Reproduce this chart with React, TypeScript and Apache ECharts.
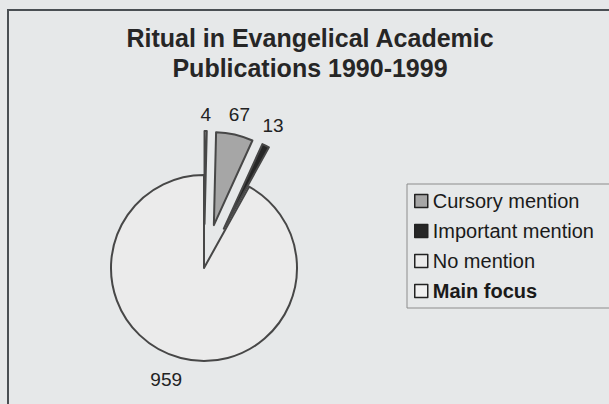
import React, { useEffect, useRef } from 'react';
import * as echarts from 'echarts';

const categories = ['Main focus', 'Cursory mention', 'Important mention', 'No mention'];
const counts = [4, 67, 13, 959];
const explodedSlices = ['Main focus', 'Cursory mention', 'Important mention'];
const legendOrder = ['Cursory mention', 'Important mention', 'No mention', 'Main focus'];
const boldLegendItems = ['Main focus'];
const titleLines = ['Ritual in Evangelical Academic', 'Publications 1990-1999'];

const sliceFill: Record<string, string> = {
  'Main focus': '#f0f0f0',
  'Cursory mention': '#a6a6a6',
  'Important mention': '#262626',
  'No mention': '#ebebeb',
};
const labelGap: Record<string, number> = {
  'Main focus': 17,
  'Cursory mention': 21,
  'Important mention': 23,
  'No mention': 22,
};
const labelPad: Record<string, number[]> = {
  'Main focus': [0, 0, 0, 0],
  'Cursory mention': [0, 0, 0, 0],
  'Important mention': [0, 6, 0, 0],
  'No mention': [0, 18, 0, 0],
};

export default function App() {
  const ref = useRef<HTMLDivElement>(null);
  useEffect(() => {
    document.body.style.margin = '0';
    const chart = echarts.init(ref.current!, null, { renderer: 'svg' });
    const data = categories.map((name, i) => {
      const style = { color: sliceFill[name], borderColor: '#474747', borderWidth: 2 };
      return {
        name,
        value: counts[i],
        selected: explodedSlices.includes(name),
        itemStyle: style,
        select: { itemStyle: style },
        label: { padding: labelPad[name] },
        labelLine: { show: false, length: labelGap[name], length2: 0 },
      };
    });
    chart.setOption({
      animation: false,
      backgroundColor: '#e6e8e9',
      title: {
        text: titleLines.join('\n'),
        left: 310,
        top: 23,
        textAlign: 'center',
        padding: 0,
        textStyle: {
          fontSize: 25,
          lineHeight: 30,
          fontWeight: 'bold',
          color: '#262626',
          fontFamily: 'Liberation Sans',
        },
      },
      legend: {
        orient: 'vertical',
        left: 407,
        top: 184,
        data: legendOrder.map((name) => ({
          name,
          textStyle: { fontWeight: boldLegendItems.includes(name) ? 'bold' : 'normal' },
        })),
        padding: [7, 20, 7, 7],
        itemGap: 10,
        itemWidth: 13,
        itemHeight: 13,
        icon: 'rect',
        selectedMode: false,
        backgroundColor: '#e6e8e9',
        borderColor: '#8c8c8c',
        borderWidth: 1,
        itemStyle: { borderColor: '#222222', borderWidth: 1.5 },
        textStyle: {
          fontSize: 20,
          lineHeight: 20,
          color: '#1a1a1a',
          fontFamily: 'Liberation Sans',
        },
      },
      graphic: [
        {
          type: 'rect',
          silent: true,
          shape: { x: 8, y: 10, width: 700, height: 500 },
          style: { fill: 'none', stroke: '#4a4f53', lineWidth: 2 },
        },
      ],
      series: [
        {
          type: 'pie',
          center: [204, 268],
          radius: 93,
          startAngle: 90,
          clockwise: true,
          selectedMode: 'multiple',
          selectedOffset: 44,
          avoidLabelOverlap: false,
          emphasis: { disabled: true },
          label: {
            show: true,
            position: 'outside',
            formatter: '{c}',
            fontSize: 19,
            color: '#222222',
            fontFamily: 'Liberation Sans',
            distanceToLabelLine: 0,
          },
          labelLine: { show: false, length2: 0 },
          labelLayout: { align: 'center' },
          data,
        },
      ],
    });
    return () => chart.dispose();
  }, []);
  return <div ref={ref} style={{ width: 609, height: 404 }} />;
}
